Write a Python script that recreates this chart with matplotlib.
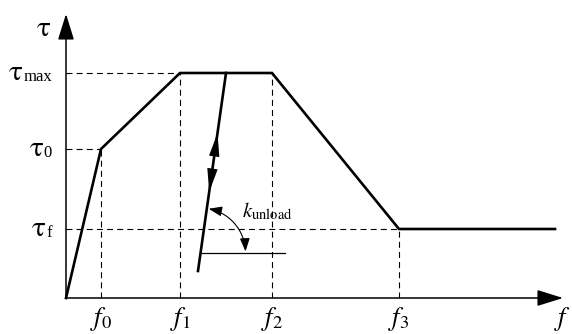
import numpy as np
import matplotlib
matplotlib.use("Agg")
import matplotlib.pyplot as plt
from matplotlib.patches import FancyArrowPatch
from matplotlib.path import Path

plt.rcParams['mathtext.fontset'] = 'stix'
plt.rcParams['font.family'] = ['Liberation Serif', 'DejaVu Serif']
plt.rcParams['lines.scale_dashes'] = False

# ---- data (slip f, stress tau) ----
f_keys = [35, 114, 206, 333]          # f0, f1, f2, f3
f_end = 489
tau0 = 149
tau_max = 225
tau_f = 69
curve_f = [0, f_keys[0], f_keys[1], f_keys[2], f_keys[3], f_end]
curve_tau = [0, tau0, tau_max, tau_max, tau_f, tau_f]
unload_f = [132, 160]
unload_tau = [27, 225]
ref_f = [136, 219]
ref_tau = 45
f_labels = [r'$f_{\mathrm{0}}$', r'$f_{\mathrm{1}}$', r'$f_{\mathrm{2}}$', r'$f_{\mathrm{3}}$']
tau_subs = ['max', '0', 'f']
x_max = 497
y_max = 284

fig = plt.figure(figsize=(5.72, 3.34), dpi=100)
ax = fig.add_axes([0, 0, 1, 1])
ax.set_xlim(-66, 506)
ax.set_ylim(-36, 298)
ax.axis('off')

dash = (0, (4.3, 3.0))
dkw = dict(color='k', lw=0.8, linestyle=dash)
# horizontal dashed guides
ax.plot([0, f_keys[1]], [tau_max, tau_max], **dkw)
ax.plot([0, f_keys[0]], [tau0, tau0], **dkw)
ax.plot([0, f_keys[3]], [tau_f, tau_f], **dkw)
# vertical dashed guides
ax.plot([f_keys[0], f_keys[0]], [0, tau0], **dkw)
ax.plot([f_keys[1], f_keys[1]], [0, tau_max], **dkw)
ax.plot([f_keys[2], f_keys[2]], [0, tau_max], **dkw)
ax.plot([f_keys[3], f_keys[3]], [0, tau_f], **dkw)

# axes with arrows
ax.annotate('', xy=(x_max, 0), xytext=(0, 0),
            arrowprops=dict(arrowstyle='-|>,head_length=1.6,head_width=0.5',
                            color='k', lw=1.1, shrinkA=0, shrinkB=0, mutation_scale=10))
ax.annotate('', xy=(0, y_max), xytext=(0, 0),
            arrowprops=dict(arrowstyle='-|>,head_length=1.6,head_width=0.5',
                            color='k', lw=1.1, shrinkA=0, shrinkB=0, mutation_scale=10))

# main curve
ax.plot(curve_f, curve_tau, color='k', lw=1.9, solid_joinstyle='miter')

# unloading line
ax.plot(unload_f, unload_tau, color='k', lw=1.9)
def along(t):
    return (unload_f[0] + t * (unload_f[1] - unload_f[0]),
            unload_tau[0] + t * (unload_tau[1] - unload_tau[0]))
ahead = 'simple,head_length=1.7,head_width=0.75,tail_width=0.01'
ax.annotate('', xy=along(0.697), xytext=along(0.61),
            arrowprops=dict(arrowstyle=ahead, color='k', lw=0, shrinkA=0, shrinkB=0,
                            mutation_scale=10))
ax.annotate('', xy=along(0.399), xytext=along(0.49),
            arrowprops=dict(arrowstyle=ahead, color='k', lw=0, shrinkA=0, shrinkB=0,
                            mutation_scale=10))

# reference horizontal line
ax.plot(ref_f, [ref_tau, ref_tau], color='k', lw=0.9)

# angle arc
cx = unload_f[0] + (ref_tau - unload_tau[0]) / (unload_tau[1] - unload_tau[0]) * (unload_f[1] - unload_f[0])
r = 45
ang = np.radians(np.linspace(79.5, 2, 40))
verts = np.column_stack([cx + r * np.cos(ang), ref_tau + r * np.sin(ang)])
arc = FancyArrowPatch(path=Path(verts), arrowstyle='<|-|>,head_length=0.8,head_width=0.3',
                      color='k', lw=0.8, mutation_scale=10, shrinkA=0, shrinkB=0)
ax.add_patch(arc)
ax.text(176, 81, r'$k_{\rm unload}$', fontsize=15, ha='left', va='baseline')

# f labels
for fv, lab in zip(f_keys, f_labels):
    ax.text(fv, -7, lab, fontsize=19, ha='center', va='top')
ax.text(505, -7, r'$f$', fontsize=19, ha='right', va='top')

# tau labels (upright tau with small subscript)
for tv, sub in zip([tau_max, tau0, tau_f], tau_subs):
    st = ax.text(-14, tv - 8, sub, fontsize=12, ha='right', va='baseline')
    ax.annotate(r'$\mathrm{τ}$', xy=(0, 0), xycoords=st, xytext=(0, 3.5),
                textcoords='offset points', fontsize=21, ha='right', va='baseline')
ax.text(-23, 272, r'$\mathrm{τ}$', fontsize=21, ha='center', va='center_baseline')

fig.savefig('out.png', dpi=100)
